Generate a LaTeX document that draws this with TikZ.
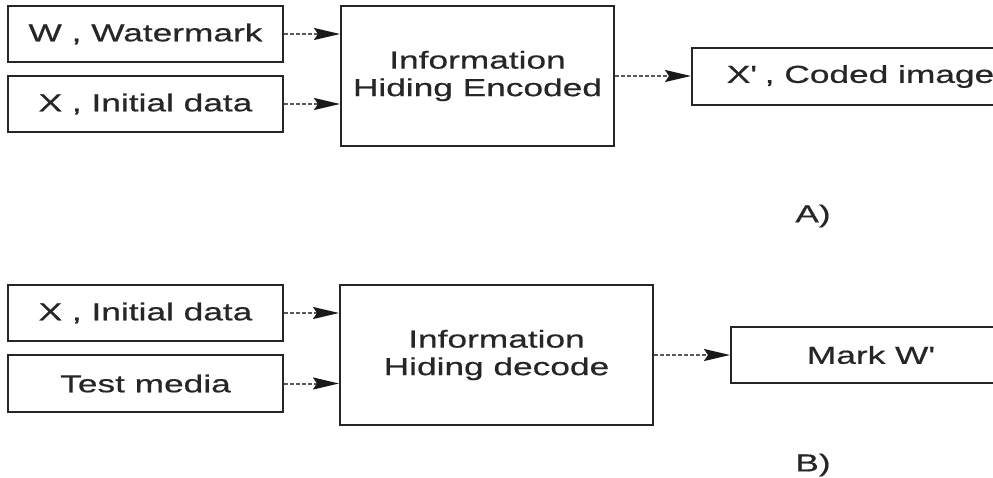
\documentclass[tikz,border=0pt]{standalone}
\usepackage{fontspec}
\newfontfamily\labelfont{Liberation Sans}[FakeStretch=1.44, FakeBold=0.6]
\usetikzlibrary{arrows.meta}

\tikzset{
  block/.style={draw=black!85, line width=2pt, inner sep=0pt, align=center,
    text=black!85, font=\labelfont\fontsize{24.5}{27.5}\selectfont},
  inbox/.style={block, minimum width=275pt, minimum height=56pt},
  flow/.style={black!65, line width=2pt, dash pattern=on 4pt off 2pt,
    -{Stealth[length=26pt, width=12pt, inset=4pt, black!90]}},
  caption/.style={text=black!85, font=\labelfont\fontsize{24.5}{27.5}\selectfont}
}

\begin{document}
\begin{tikzpicture}[x=1pt, y=-1pt]
  \useasboundingbox (0,0) rectangle (993,478);
  \clip (0,0) rectangle (993,478);

  % encoder
  \node[inbox] (wmark) at (145.5,34) {W , Watermark};
  \node[inbox] (xenc) at (145.5,104) {X , Initial data};
  \node[block, minimum width=273pt, minimum height=140pt] (encode) at (477.5,76)
    {Information\\Hiding Encoded};
  \node[block, minimum width=337pt, minimum height=57pt] (coded) at (860.5,76.5)
    {X\textquotesingle{} , Coded image};
  \draw[flow] (wmark.east) -- (wmark.east -| encode.west);
  \draw[flow] (xenc.east) -- (xenc.east -| encode.west);
  \draw[flow] (encode.east) -- (encode.east -| coded.west);
  \node[caption] (capA) at (813,216) {A)};

  % decoder
  \node[inbox] (xdec) at (145.5,313) {X , Initial data};
  \node[inbox, minimum height=57pt] (media) at (145.5,383.5) {Test media};
  \node[block, minimum width=313pt, minimum height=140pt] (decode) at (496.5,355)
    {Information\\Hiding decode};
  \node[block, minimum width=278pt, minimum height=56pt] (mark) at (870,355)
    {Mark W\textquotesingle};
  \draw[flow] (xdec.east) -- (xdec.east -| decode.west);
  \draw[flow] (media.east) -- (media.east -| decode.west);
  \draw[flow] (decode.east) -- (decode.east -| mark.west);
  \node[caption] (capB) at (813,465) {B)};
\end{tikzpicture}
\end{document}
